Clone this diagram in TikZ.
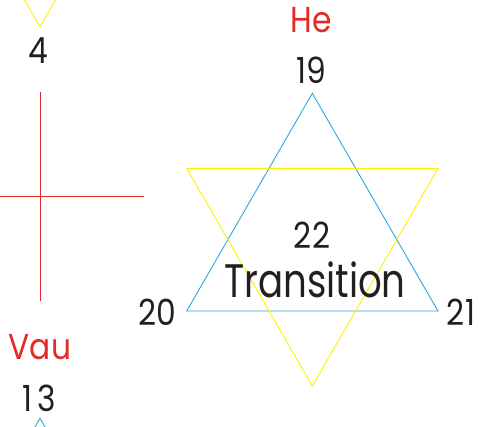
\documentclass[tikz,border=0pt]{standalone}
\usepackage{fontspec}
\setmainfont{Poppins}[FakeStretch=0.87]
\newfontfamily\wordfont{Poppins}[FakeStretch=0.79]
\usepackage{tikz}
\usetikzlibrary{positioning,calc}
\definecolor{sbBlue}{HTML}{29A8E0}
\definecolor{sbYellow}{HTML}{FFF000}
\definecolor{sbRed}{HTML}{E42A26}
\definecolor{sbInk}{HTML}{231F20}
\tikzset{
  num/.style={font=\fontsize{36}{36}\selectfont, text=sbInk, inner sep=0pt},
  letter/.style={font=\fontsize{36}{36}\selectfont, text=sbRed, inner sep=0pt},
  bigword/.style={font=\wordfont\fontsize{47}{47}\selectfont, text=sbInk, inner sep=0pt},
  fire/.style={draw=sbBlue, line width=0.9pt, line join=miter},
  water/.style={draw=sbYellow, line width=0.9pt, line join=miter},
  pillar/.style={draw=sbRed, line width=0.9pt}
}

\begin{document}
\begin{tikzpicture}[x=1pt, y=-1pt]
  \clip (0,0) rectangle (481,426);
  % star of the transition
  \coordinate (t19) at (312.3,93.3);
  \coordinate (t20) at (186.7,311);
  \coordinate (t21) at (438,311);
  \coordinate (w1) at (186.7,168.3);
  \coordinate (w2) at (438,168.3);
  \coordinate (w3) at (312.3,386);
  \draw[fire] (t19) -- (t20) -- (t21) -- cycle;
  \draw[water] (w1) -- (w2) -- (w3) -- cycle;
  % neighbouring figures, cut by the frame
  \coordinate (v4) at (40,26.7);
  \draw[water] ($(v4)+(-125.6,-217.7)$) -- (v4) -- ($(v4)+(125.6,-217.7)$);
  \coordinate (v13) at (40,418.3);
  \draw[fire] ($(v13)+(-125.6,217.7)$) -- (v13) -- ($(v13)+(125.6,217.7)$);
  % cross
  \coordinate (cT) at (40,91.7);
  \coordinate (cB) at (40,301);
  \coordinate (cL) at (0,196.3);
  \coordinate (cR) at (144.3,196.3);
  \draw[pillar] (cT) -- (cB);
  \draw[pillar] (cL) -- (cR);
  % labels
  \node[letter] (he) at (311,20) {He};
  \node[num] (n19) at (311,70) {19};
  \node[num] (n20) at (157,312) {20};
  \node[num] (n21) at (461,312) {21};
  \node[num] (n22) at (312,235) {22};
  \node[bigword] (tr) at (315,280) {Transition};
  \node[num] (n4) at (38,51) {4};
  \node[letter] (vau) at (40,347) {Vau};
  \node[num] (n13) at (39,398) {1\kern5pt3};
\end{tikzpicture}
\end{document}
